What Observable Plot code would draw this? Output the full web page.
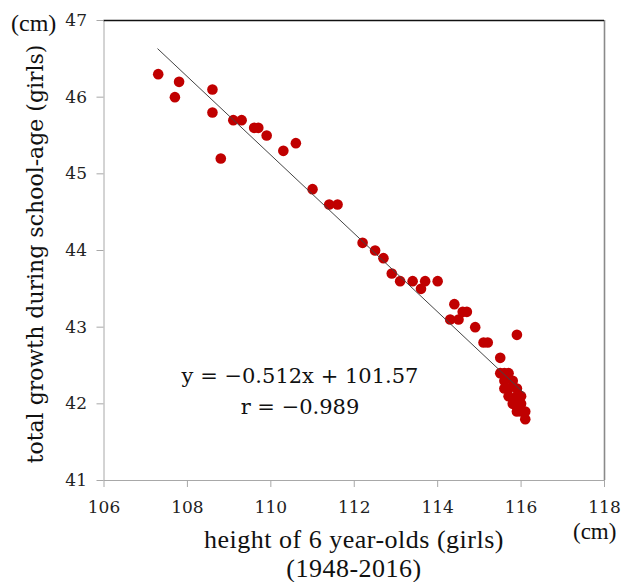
<!DOCTYPE html>
<html>
<head>
<meta charset="utf-8">
<script src="https://cdn.jsdelivr.net/npm/d3@7"></script>
<script src="https://cdn.jsdelivr.net/npm/@observablehq/plot@0.6"></script>
<style>
  html, body { margin: 0; padding: 0; background: #fff; }
  .serifT { font-family: "Liberation Serif", "Times New Roman", Times, serif; }
  .serifC { font-family: "DejaVu Serif", "Bitstream Vera Serif", serif; }
</style>
</head>
<body>
<div id="chart"></div>
<script>
// height of 6 year-olds (girls), cm
const heights6 = [
  107.3, 107.7, 107.8, 108.6, 108.6, 108.8, 109.1, 109.3, 109.6, 109.7,
  109.9, 110.3, 110.6, 111.0, 111.4, 111.6, 112.2, 112.5, 112.7, 112.9,
  113.1, 113.4, 113.6, 113.7, 114.0, 114.4, 114.3, 114.5, 114.6, 114.7,
  114.9, 115.1, 115.2, 115.9, 115.5,
  115.5, 115.6, 115.7, 115.6, 115.8, 115.6, 115.7, 115.9, 115.7, 115.9,
  116.0, 115.8, 115.9, 116.0, 115.9, 116.0, 116.1, 116.1
];
// total growth during school-age (girls), cm
const growth = [
  46.3, 46.0, 46.2, 46.1, 45.8, 45.2, 45.7, 45.7, 45.6, 45.6,
  45.5, 45.3, 45.4, 44.8, 44.6, 44.6, 44.1, 44.0, 43.9, 43.7,
  43.6, 43.6, 43.5, 43.6, 43.6, 43.3, 43.1, 43.1, 43.2, 43.2,
  43.0, 42.8, 42.8, 42.9, 42.6,
  42.4, 42.4, 42.4, 42.3, 42.3, 42.2, 42.2, 42.2, 42.1, 42.1,
  42.1, 42.0, 42.0, 42.0, 41.9, 41.9, 41.9, 41.8
];
// regression line endpoints (y = -0.512x + 101.57)
const fitX = [107.29, 116.07];
const fitY = [46.63, 42.14];

const xTicks = [106, 108, 110, 112, 114, 116, 118];
const yTicks = [41, 42, 43, 44, 45, 46, 47];

const points = heights6.map((h, i) => ({x: h, y: growth[i]}));
const fit = fitX.map((v, i) => ({x: v, y: fitY[i]}));

const W = 625, H = 582;
const chart = Plot.plot({
  width: W,
  height: H,
  marginLeft: 103.5,
  marginRight: 21,
  marginTop: 20,
  marginBottom: 102,
  style: {fontFamily: "'DejaVu Serif', serif", fontSize: "17px", background: "#fff", color: "#111"},
  x: {domain: [106, 118]},
  y: {domain: [41, 47]},
  marks: [
    Plot.ruleY([41], {stroke: "#a8a8a8"}),
    Plot.ruleX([106], {stroke: "#a8a8a8"}),
    Plot.ruleX([118], {stroke: "#8a8a8a", strokeWidth: 1.6}),
    Plot.ruleY([47], {stroke: "#111", strokeWidth: 1.3}),
    Plot.axisX({ticks: xTicks, tickSize: 7, tickPadding: 13, stroke: "#a8a8a8", fill: "#222", label: null, tickFormat: d => String(d)}),
    Plot.axisY({ticks: yTicks, tickSize: 7, tickPadding: 10, stroke: "#a8a8a8", fill: "#222", label: null, tickFormat: d => String(d)}),
    Plot.dot(points, {x: "x", y: "y", r: 5.3, fill: "#c00000", stroke: "none"}),
    Plot.line(fit, {x: "x", y: "y", stroke: "#444", strokeWidth: 1})
  ]
});

const svg = d3.select(chart);
function addText(cls, size, attrs, str) {
  const t = svg.append("text").attr("class", cls)
    .style("font-size", size + "px").attr("fill", "#111")
    .attr("text-anchor", attrs.anchor || "start");
  if (attrs.spacing) t.style("letter-spacing", attrs.spacing + "px");
  if (attrs.transform) t.attr("transform", attrs.transform);
  else t.attr("x", attrs.x).attr("y", attrs.y);
  t.text(str);
  return t;
}
// y unit
addText("serifT", 24, {x: 11, y: 31}, "(cm)");
// y title
addText("serifC", 22, {transform: "translate(43,254) rotate(-90)", anchor: "middle"}, "total growth during school-age (girls)");
// x title
addText("serifT", 26, {x: 354, y: 548, anchor: "middle", spacing: 0.5}, "height of 6 year-olds (girls)");
addText("serifT", 26, {x: 354, y: 577, anchor: "middle", spacing: 0.5}, "(1948-2016)");
// x unit
addText("serifT", 23, {x: 573, y: 539}, "(cm)");
// equation
addText("serifC", 21, {x: 300, y: 383, anchor: "middle"}, "y = −0.512x + 101.57");
addText("serifC", 21, {x: 300, y: 414, anchor: "middle"}, "r = −0.989");

document.getElementById("chart").appendChild(chart);
</script>
</body>
</html>
